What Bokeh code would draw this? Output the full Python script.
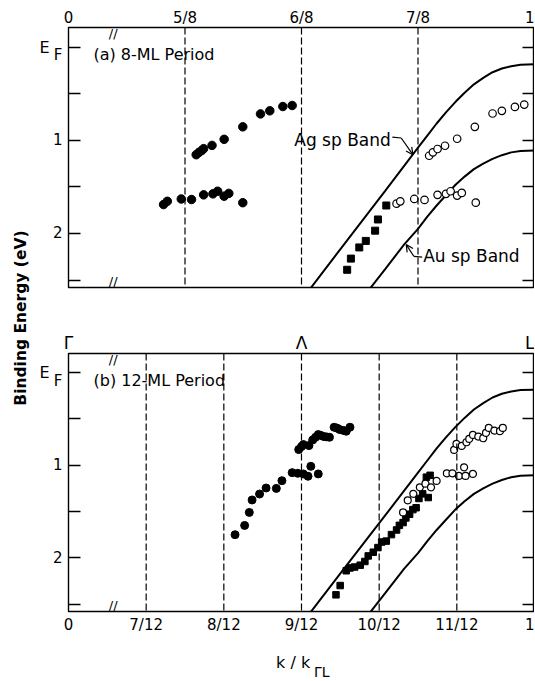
import math
from bokeh.plotting import figure
from bokeh.models import Range1d, FixedTicker, LinearAxis, Span, Label, Arrow, OpenHead
from bokeh.layouts import row, column
from bokeh.embed import file_html
from bokeh.resources import INLINE

FONT = "DejaVu Sans"

# ---------------- tick definitions ----------------
a_top_ticks = [0.5, 5/8, 6/8, 7/8, 1.0]
a_top_labels = ["0", "5/8", "6/8", "7/8", "1"]
a_dashes = [5/8, 6/8, 7/8]

b_top_ticks = [0.5, 0.75, 1.0]
b_top_labels = ["Γ", "Λ", "L"]
b_bot_ticks = [0.5, 7/12, 8/12, 9/12, 10/12, 11/12, 1.0]
b_bot_labels = ["0", "7/12", "8/12", "9/12", "10/12", "11/12", "1"]
b_dashes = [7/12, 8/12, 9/12, 10/12, 11/12]

y_minor = [0.0, 0.5, 1.0, 1.5, 2.0, 2.5]      # all tick marks
y_lab_ticks = [0.09, 1.0, 2.0]                  # labelled positions (F subscript, 1, 2)
y_lab_text = ["F", "1", "2"]
ef_tick = [0.0]
ef_text = ["E"]

# ---------------- band curves ----------------
ag_k = [0.755, 0.80, 0.84, 0.875, 0.885, 0.895, 0.905, 0.915, 0.925, 0.935, 0.945, 0.955, 0.965, 0.975, 0.985, 1.0]
ag_E = [2.65, 2.06, 1.54, 1.08, 0.95, 0.82, 0.70, 0.59, 0.49, 0.40, 0.33, 0.27, 0.23, 0.205, 0.19, 0.185]
au_k = [0.815, 0.84, 0.86, 0.875, 0.885, 0.895, 0.905, 0.915, 0.925, 0.935, 0.945, 0.955, 0.965, 0.975, 0.985, 1.0]
au_E = [2.70, 2.38, 2.12, 1.95, 1.82, 1.70, 1.59, 1.48, 1.39, 1.31, 1.25, 1.20, 1.16, 1.13, 1.115, 1.11]

# ---------------- panel (a) 8-ML data ----------------
a_fill_k = [0.637, 0.640, 0.643, 0.645, 0.654, 0.667, 0.687, 0.706, 0.716, 0.730, 0.740,
            0.602, 0.606, 0.621, 0.632, 0.645, 0.655, 0.660, 0.667, 0.672, 0.687]
a_fill_E = [1.155, 1.13, 1.11, 1.09, 1.055, 0.99, 0.856, 0.717, 0.684, 0.638, 0.627,
            1.69, 1.655, 1.63, 1.636, 1.586, 1.575, 1.547, 1.60, 1.57, 1.67]
a_open_k = [0.887, 0.891, 0.896, 0.904, 0.917, 0.936, 0.955, 0.965, 0.979, 0.989,
            0.852, 0.856, 0.871, 0.882, 0.896, 0.905, 0.910, 0.917, 0.922, 0.937]
a_open_E = [1.166, 1.13, 1.094, 1.059, 0.984, 0.856, 0.713, 0.684, 0.642, 0.617,
            1.68, 1.655, 1.63, 1.64, 1.586, 1.575, 1.547, 1.594, 1.565, 1.67]
a_sq_k = [0.799, 0.803, 0.812, 0.819, 0.829, 0.832, 0.841]
a_sq_E = [2.39, 2.27, 2.15, 2.08, 1.97, 1.85, 1.70]

# ---------------- panel (b) 12-ML data ----------------
b_fill_k = [0.6787, 0.689, 0.694, 0.697, 0.705, 0.712, 0.723, 0.729, 0.740, 0.746, 0.752, 0.757, 0.760, 0.768,
            0.747, 0.750, 0.752, 0.758, 0.762, 0.765, 0.768, 0.771, 0.774, 0.777, 0.780, 0.785, 0.788, 0.791, 0.795, 0.798, 0.802]
b_fill_E = [1.751, 1.651, 1.51, 1.376, 1.312, 1.247, 1.251, 1.168, 1.081, 1.088, 1.095, 1.12, 1.013, 1.095,
            0.832, 0.80, 0.778, 0.789, 0.728, 0.70, 0.670, 0.68, 0.692, 0.695, 0.699, 0.591, 0.60, 0.616, 0.625, 0.634, 0.591]
b_open_k = [0.9138, 0.9163, 0.922, 0.927, 0.930, 0.934, 0.9397, 0.945, 0.948, 0.951, 0.957, 0.963, 0.966,
            0.906, 0.912, 0.919, 0.9245, 0.926, 0.934,
            0.859, 0.864, 0.870, 0.877, 0.883, 0.889, 0.895]
b_open_E = [0.836, 0.771, 0.793, 0.753, 0.717, 0.674, 0.692, 0.710, 0.652, 0.598, 0.627, 0.634, 0.598,
            1.088, 1.088, 1.117, 1.024, 1.117, 1.095,
            1.51, 1.38, 1.31, 1.24, 1.20, 1.24, 1.17]
b_sq_k = [0.787, 0.7915, 0.798, 0.802, 0.807, 0.813, 0.818, 0.8216, 0.827, 0.832, 0.836, 0.841, 0.8465,
          0.852, 0.855, 0.859, 0.862, 0.866, 0.8695, 0.873, 0.876, 0.880, 0.886, 0.884, 0.888]
b_sq_E = [2.40, 2.30, 2.14, 2.11, 2.10, 2.08, 2.04, 1.98, 1.94, 1.89, 1.83, 1.82, 1.75,
          1.70, 1.65, 1.62, 1.57, 1.53, 1.48, 1.46, 1.36, 1.31, 1.35, 1.13, 1.11]

x_range = Range1d(0.5, 1.0)
PW = 498      # panel width
BL = 31       # left border of panels


def base_axis(ax, size="15px", standoff=4):
    ax.minor_tick_line_color = None
    ax.major_tick_in = 0
    ax.major_tick_out = 0
    ax.major_tick_line_color = None
    ax.axis_line_color = None
    ax.major_label_text_font = FONT
    ax.major_label_text_color = "black"
    ax.major_label_text_font_size = size
    ax.major_label_standoff = standoff


def label_axis(ax, ticks, labels, size="15px", standoff=4):
    base_axis(ax, size, standoff)
    ax.ticker = FixedTicker(ticks=ticks)
    ax.major_label_overrides = dict(zip(ticks, labels))


def tick_axis(ax, ticks, labels, standoff=6):
    # tick marks pointing into the frame at every 0.5 eV, labels only where given
    base_axis(ax, "15px", standoff)
    ax.ticker = FixedTicker(ticks=ticks, minor_ticks=y_minor)
    ax.major_label_overrides = dict(zip(ticks, labels))
    ax.minor_tick_line_color = "black"
    ax.minor_tick_line_width = 1.3
    ax.minor_tick_in = 12
    ax.minor_tick_out = 0


def make_panel(height, y_range, top, bottom):
    p = figure(width=PW, height=height, x_range=x_range, y_range=y_range,
               x_axis_location="above", output_backend="svg", toolbar_location=None,
               min_border_left=BL, min_border_right=0,
               min_border_top=top, min_border_bottom=bottom)
    p.grid.visible = False
    p.outline_line_color = "black"
    p.outline_line_width = 1.4
    p.outline_line_alpha = 1.0
    p.background_fill_color = "white"
    p.border_fill_color = "white"
    tick_axis(p.yaxis[0], y_lab_ticks, y_lab_text)
    ea = LinearAxis()
    label_axis(ea, ef_tick, ef_text, size="16px", standoff=0)
    p.add_layout(ea, "left")
    ra = LinearAxis()
    tick_axis(ra, [], [], standoff=0)
    p.add_layout(ra, "right")
    return p


def add_common(p, dashes, ytop, ybot):
    for v in dashes:
        p.add_layout(Span(location=v, dimension="height", line_color="black",
                          line_dash="7 3", line_width=1.2))
    p.line(ag_k, ag_E, line_color="black", line_width=2)
    p.line(au_k, au_E, line_color="black", line_width=2)
    for yy in (ytop, ybot):
        p.add_layout(Label(x=0.548, y=yy, text="//", text_align="center", text_baseline="middle",
                           text_font=FONT, text_font_size="13px", text_color="black"))


# ---------------- panel (a) ----------------
pa = make_panel(320, Range1d(2.58, -0.21), 27, 33)
label_axis(pa.xaxis[0], a_top_ticks, a_top_labels, standoff=1)
add_common(pa, a_dashes, -0.145, 2.515)
pa.scatter(a_sq_k, a_sq_E, marker="square", size=7, fill_color="black", line_color="black")
pa.scatter(a_fill_k, a_fill_E, marker="circle", size=8.5, fill_color="black", line_color="black")
pa.scatter(a_open_k, a_open_E, marker="circle", size=7.5, fill_color="white", line_color="black", line_width=1.2)
pa.add_layout(Label(x=0.5268, y=0.08, text="(a) 8-ML Period", text_align="left", text_baseline="middle",
                    text_font=FONT, text_font_size="16px", text_color="black"))
pa.add_layout(Label(x=0.8458, y=1.0, text="Ag sp Band", text_align="right", text_baseline="middle",
                    text_font=FONT, text_font_size="17px", text_color="black"))
pa.line([0.8475, 0.857], [0.966, 0.976], line_color="black", line_width=1.2)
pa.add_layout(Arrow(end=OpenHead(size=7, line_width=1.2), x_start=0.857, y_start=0.976,
                    x_end=0.8695, y_end=1.155, line_width=1.2, line_color="black"))
pa.add_layout(Label(x=0.8805, y=2.246, text="Au sp Band", text_align="left", text_baseline="middle",
                    text_font=FONT, text_font_size="17px", text_color="black"))
pa.line([0.8795, 0.8705], [2.255, 2.245], line_color="black", line_width=1.2)
pa.add_layout(Arrow(end=OpenHead(size=7, line_width=1.2), x_start=0.8705, y_start=2.245,
                    x_end=0.8624, y_end=2.12, line_width=1.2, line_color="black"))

# ---------------- panel (b) ----------------
pb = make_panel(331, Range1d(2.58, -0.205), 33, 40)
label_axis(pb.xaxis[0], b_top_ticks, b_top_labels, size="17px", standoff=1)
ba = LinearAxis()
label_axis(ba, b_bot_ticks, b_bot_labels, standoff=4)
pb.add_layout(ba, "below")
add_common(pb, b_dashes, -0.14, 2.515)
pb.scatter(b_sq_k, b_sq_E, marker="square", size=6.5, fill_color="black", line_color="black")
pb.scatter(b_fill_k, b_fill_E, marker="circle", size=8, fill_color="black", line_color="black")
pb.scatter(b_open_k, b_open_E, marker="circle", size=7, fill_color="white", line_color="black", line_width=1.2)
pb.add_layout(Label(x=0.5268, y=0.086, text="(b) 12-ML Period", text_align="left", text_baseline="middle",
                    text_font=FONT, text_font_size="16px", text_color="black"))

# ---------------- x-axis title strip ----------------
pk = figure(width=PW, height=29, x_range=x_range, y_range=Range1d(29, 0),
            x_axis_type=None, y_axis_type=None, output_backend="svg", toolbar_location=None,
            min_border_left=BL, min_border_right=0, min_border_top=0, min_border_bottom=0)
pk.outline_line_color = None
pk.grid.visible = False
pk.add_layout(Label(x=0.7227, y=11, text="k / k", text_align="left", text_baseline="middle",
                    text_font=FONT, text_font_size="16px", text_color="black"))
pk.add_layout(Label(x=0.7634, y=20, text="ΓL", text_align="left", text_baseline="middle",
                    text_font=FONT, text_font_size="14px", text_color="black"))

# ---------------- shared y label ----------------
py = figure(width=36, height=680, x_range=Range1d(0, 1), y_range=Range1d(0, 1),
            x_axis_type=None, y_axis_type=None, output_backend="svg", toolbar_location=None,
            min_border=0)
py.outline_line_color = None
py.grid.visible = False
py.add_layout(Label(x=0.56, y=0.533, text="Binding Energy (eV)", angle=math.pi / 2,
                    text_align="center", text_baseline="middle", text_font=FONT,
                    text_font_size="15.5px", text_font_style="bold", text_color="black"))

layout = row(py, column(pa, pb, pk))
open("out.html", "w").write(file_html(layout, INLINE))
